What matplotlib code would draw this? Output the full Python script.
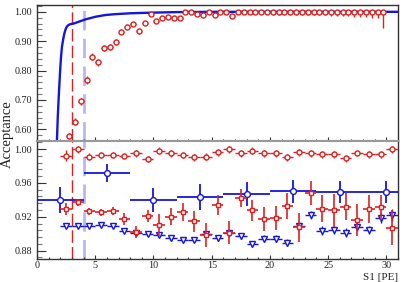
import numpy as np
import matplotlib
matplotlib.use("Agg")
import matplotlib.pyplot as plt
from matplotlib.ticker import MultipleLocator, FormatStrFormatter

plt.rcParams['font.family'] = ['Liberation Serif', 'DejaVu Serif']

# ---------------- top panel ----------------
# acceptance curve (blue line)
curve_x = [1.65, 1.71, 1.78, 1.85, 1.93, 2.00, 2.07, 2.14, 2.24, 2.34, 2.45,
           2.57, 2.70, 2.86, 3.14, 3.57, 4.14, 5.00, 5.85, 6.70, 8.00, 9.70,
           12.0, 15.0, 20.0, 31.0]
curve_y = [0.540, 0.561, 0.640, 0.700, 0.760, 0.810, 0.850, 0.880, 0.905, 0.925,
           0.940, 0.950, 0.955, 0.958, 0.960, 0.966, 0.974, 0.983, 0.989, 0.992,
           0.995, 0.997, 0.999, 1.000, 1.000, 1.000]

# measured acceptance (red points)
top_x = np.arange(2.75, 30.0, 0.5)
top_y = [0.577, 0.625, 0.696, 0.768, 0.847, 0.828, 0.876, 0.881, 0.896, 0.932,
         0.949, 0.958, 0.934, 0.962, 0.992, 0.970, 0.979, 0.983, 0.978, 0.980,
         0.998, 0.998, 0.992, 0.988, 0.998, 0.990, 0.998, 0.998, 0.986] + [1.0] * 26
top_err = [0.010, 0.012, 0.012, 0.013, 0.012, 0.011, 0.010, 0.010, 0.010, 0.009,
           0.009, 0.008, 0.010, 0.008, 0.006, 0.007, 0.007, 0.006, 0.006, 0.006,
           0.005, 0.005, 0.006, 0.006, 0.005, 0.006, 0.005, 0.005, 0.007,
           0.008, 0.008, 0.008, 0.008, 0.009, 0.009, 0.010, 0.010, 0.010, 0.011,
           0.010, 0.011, 0.011, 0.011, 0.012, 0.012, 0.013, 0.013, 0.014, 0.015,
           0.016, 0.017, 0.019, 0.020, 0.022, 0.056]

# ---------------- bottom panel ----------------
bot_x = np.arange(2.5, 31.0, 1.0)
red_hi_y = [0.9924, 1.000, 0.991, 0.993, 0.993, 0.992, 0.995, 0.9885, 0.998, 0.995,
            0.993, 0.9905, 0.991, 0.9964, 1.000, 0.995, 0.998, 0.995, 0.995, 0.9905,
            0.9964, 0.995, 0.9937, 0.9937, 0.989, 0.9954, 0.9937, 0.994, 1.000]
red_hi_err = [0.007, 0.004, 0.004, 0.004, 0.004, 0.004, 0.004, 0.004, 0.004, 0.004,
              0.004, 0.004, 0.004, 0.004, 0.004, 0.004, 0.004, 0.004, 0.004, 0.004,
              0.004, 0.004, 0.004, 0.004, 0.004, 0.004, 0.004, 0.004, 0.004]

red_lo_y = [0.929, 0.9373, 0.9266, 0.9254, 0.927, 0.9172, 0.9018, 0.921, 0.9104, 0.920,
            0.9254, 0.9144, 0.8986, 0.934, 0.9013, 0.942, 0.9274, 0.9172, 0.9183, 0.9329,
            0.9077, 0.948, 0.9293, 0.9274, 0.932, 0.9163, 0.9293, 0.9313, 0.9072]
red_lo_err = [0.007, 0.004, 0.004, 0.004, 0.005, 0.007, 0.0075, 0.007, 0.013, 0.010,
              0.011, 0.012, 0.014, 0.012, 0.014, 0.011, 0.013, 0.014, 0.014, 0.015,
              0.017, 0.014, 0.016, 0.020, 0.016, 0.019, 0.017, 0.015, 0.021]

circ_x = [2, 6, 10, 14, 18, 22, 26, 30]
circ_y = [0.940, 0.9716, 0.940, 0.9432, 0.9467, 0.950, 0.949, 0.949]
circ_xerr = [2, 2, 2, 2, 2, 2, 2, 2]
circ_yerr = [0.015, 0.011, 0.014, 0.015, 0.014, 0.014, 0.013, 0.013]

tri_y = [0.9096, 0.9096, 0.9092, 0.9104, 0.9096, 0.9037, 0.9006, 0.8994, 0.8986, 0.8943,
         0.8919, 0.8930, 0.8997, 0.8947, 0.9006, 0.8974, 0.8876, 0.8939, 0.8939, 0.8895,
         0.9092, 0.9223, 0.9037, 0.9045, 0.9013, 0.9084, 0.9045, 0.9183, 0.9223]
tri_err = [0.0015, 0.0015, 0.0015, 0.0015, 0.0015, 0.002, 0.002, 0.002, 0.002, 0.0025,
           0.0025, 0.003, 0.003, 0.003, 0.003, 0.0035, 0.0035, 0.004, 0.004, 0.004,
           0.005, 0.005, 0.005, 0.005, 0.005, 0.005, 0.005, 0.006, 0.007]

thresholds = [3.0, 4.0]

RED = '#e02020'
BLUE = '#1515e0'
LAV = '#b8b8f0'

fig = plt.figure(figsize=(4.15, 2.82), dpi=100)
ax1 = fig.add_axes([0.0892, 0.501, 0.8698, 0.480])
ax2 = fig.add_axes([0.0892, 0.0816, 0.8698, 0.4194])

for ax in (ax1, ax2):
    ax.axvline(thresholds[0], color=RED, lw=1.0, dashes=(9, 3), zorder=1)
    ax.axvline(thresholds[1], color=LAV, lw=2.0, dashes=(7, 3), zorder=1)

ax1.plot(curve_x, curve_y, color=BLUE, lw=1.7, zorder=3)
top_y_arr = np.array(top_y)
top_err_arr = np.array(top_err)
top_hi = np.minimum(top_err_arr, 1.0 - top_y_arr)
ax1.errorbar(top_x, top_y, yerr=[top_err, top_hi], xerr=0.25, fmt='o', ms=3.6,
             mfc='white', mec=RED, mew=1.0, ecolor=RED, elinewidth=1.0,
             capsize=0, zorder=4)

ax2.errorbar(bot_x, red_hi_y, yerr=red_hi_err, xerr=0.5, fmt='o', ms=3.6,
             mfc='white', mec=RED, mew=1.0, ecolor=RED, elinewidth=1.0,
             capsize=0, zorder=4)
ax2.errorbar(bot_x, red_lo_y, yerr=red_lo_err, xerr=0.5, fmt='s', ms=3.0,
             mfc='white', mec=RED, mew=1.0, ecolor=RED, elinewidth=1.2,
             capsize=0, zorder=4)
ax2.errorbar(circ_x, circ_y, yerr=circ_yerr, xerr=circ_xerr, fmt='o', ms=4.2,
             mfc='white', mec=BLUE, mew=1.0, ecolor=BLUE, elinewidth=1.3,
             capsize=0, zorder=3)
ax2.errorbar(bot_x, tri_y, yerr=tri_err, xerr=0.5, fmt='v', ms=4.0,
             mfc='white', mec=BLUE, mew=1.0, ecolor=BLUE, elinewidth=1.0,
             capsize=0, zorder=3)

ax1.set_xlim(0, 31)
ax2.set_xlim(0, 31)
ax1.set_ylim(0.561, 1.022)
ax2.set_ylim(0.870, 1.010)

for ax in (ax1, ax2):
    ax.xaxis.set_major_locator(MultipleLocator(5))
    ax.xaxis.set_minor_locator(MultipleLocator(1))
    ax.tick_params(axis='both', which='both', direction='in', colors='#333333',
                   labelcolor='#222222', labelsize=7.3, width=0.8)
    ax.tick_params(axis='y', which='major', length=6.5)
    ax.tick_params(axis='y', which='minor', length=3.6, color='#777777')
    ax.tick_params(axis='x', which='major', length=3.2, pad=1.5)
    ax.tick_params(axis='x', which='minor', length=1.8)
    for s in ax.spines.values():
        s.set_color('#333333')
        s.set_linewidth(1.0)

ax1.yaxis.set_major_locator(MultipleLocator(0.1))
ax1.yaxis.set_minor_locator(MultipleLocator(0.02))
ax1.yaxis.set_major_formatter(FormatStrFormatter('%.2f'))
ax1.tick_params(axis='x', labelbottom=False)
ax1.spines['bottom'].set_color('#999999')
ax1.spines['bottom'].set_linewidth(1.5)
ax2.spines['top'].set_color('#999999')
ax2.spines['top'].set_linewidth(1.5)

ax2.yaxis.set_major_locator(MultipleLocator(0.04))
ax2.yaxis.set_minor_locator(MultipleLocator(0.008))
ax2.yaxis.set_major_formatter(FormatStrFormatter('%.2f'))

fig.text(0.018, 0.523, 'Acceptance', rotation=90, ha='center', va='center',
         fontsize=10.5, color='#222222')
fig.text(0.959, 0.0, 'S1 [PE]', ha='right', va='bottom', fontsize=8.0,
         color='#222222')

fig.savefig('out.png', dpi=100)
